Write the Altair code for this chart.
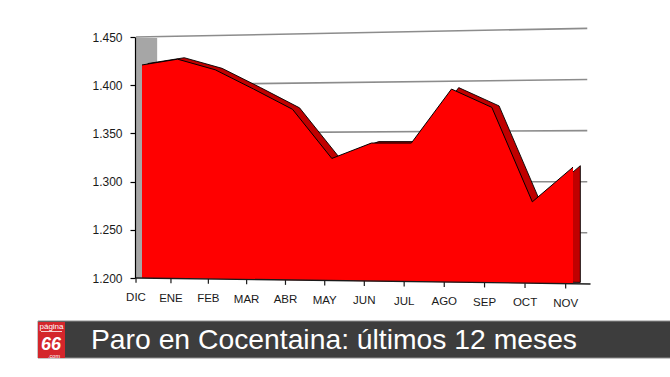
import altair as alt
import pandas as pd

# ---------------- data ----------------
months = ["DIC", "ENE", "FEB", "MAR", "ABR", "MAY", "JUN", "JUL", "AGO", "SEP", "OCT", "NOV"]
values = [1421, 1427, 1416, 1396, 1375, 1324, 1340, 1340, 1396, 1377, 1279, 1315]
y_ticks = [1200, 1250, 1300, 1350, 1400, 1450]
grid_values = [1250, 1300, 1350, 1400, 1450]
title_text = "Paro en Cocentaina: últimos 12 meses"

# ---------------- 3D-look styling constants ----------------
X_LEFT, X_RIGHT = -0.18, 11.43      # floor extent in category-index units
WALL_BACK = 0.44                    # back wall starts here
GRID_END = 11.35
DEPTH_X, DEPTH_Y = 0.18, 1.5        # depth of the 3D band
FLOOR_DROP, SCALE_GROWTH = -6.2, 0.061
TICK_LEN = 5


def persp(v, i):
    t = (i - X_LEFT) / (X_RIGHT - X_LEFT)
    return v + t * (FLOOR_DROP + SCALE_GROWTH * (v - 1200))


x_scale = alt.Scale(type="pow", exponent=1.04, domain=[0, 11], range=[7, 438])
y_scale = alt.Scale(domain=[1200, 1450], nice=False, zero=False)
y_axis = alt.Axis(
    values=y_ticks,
    labelExpr="replace(format(datum.value, ',.0f'), ',', '.')",
    title=None, grid=False, domainColor="#000000", domainWidth=1.2,
    tickColor="#000000", tickSize=5, tickWidth=1.2, labelFontSize=12,
    labelFont="Liberation Sans", labelColor="#1a1a1a", labelPadding=8, zindex=1,
)


def X(f):
    return alt.X(f, type="quantitative", scale=x_scale, axis=None)


def Y(f):
    return alt.Y(f, type="quantitative", scale=y_scale, axis=y_axis)


idx = list(range(len(months)))
front = pd.DataFrame({
    "mes": months,
    "x": idx,
    "v": values,
    "base": [persp(1200, i) for i in idx],
})
back = pd.DataFrame({
    "x": [i + DEPTH_X for i in idx],
    "v": [v + DEPTH_Y for v in values],
    "base": [persp(1200, i + DEPTH_X) + DEPTH_Y for i in idx],
})

grid = pd.DataFrame({
    "x": [X_LEFT if g == 1450 else WALL_BACK for g in grid_values],
    "x2": [GRID_END for g in grid_values],
})
grid["y"] = [persp(g, x) for g, x in zip(grid_values, grid["x"])]
grid["y2"] = [persp(g, GRID_END) for g in grid_values]

wall = pd.DataFrame({"x": [X_LEFT], "x2": [WALL_BACK], "y": [1200], "y2": [1449]})

ticks = pd.DataFrame({"mes": months, "x": [i - DEPTH_X for i in idx]})
ticks["y"] = [persp(1200, x) for x in ticks["x"]]
ticks["y2"] = ticks["y"] - TICK_LEN

floor = pd.DataFrame({
    "x": [X_LEFT], "x2": [X_RIGHT],
    "y": [persp(1200, X_LEFT)], "y2": [persp(1200, X_RIGHT)],
})

# ---------------- chart layers ----------------
wall_l = alt.Chart(wall).mark_rect(color="#a6a6a6").encode(
    x=X("x"), x2="x2", y=Y("y"), y2="y2")

grid_l = alt.Chart(grid).mark_rule(color="#8c8c8c", strokeWidth=1.6).encode(
    x=X("x"), x2="x2", y=Y("y"), y2="y2")

back_l = alt.Chart(back).mark_area(
    color="#c00000", stroke="#000000", strokeWidth=0.9, strokeJoin="round"
).encode(x=X("x"), y=Y("v"), y2="base")

front_l = alt.Chart(front).mark_area(color="#ff0000").encode(
    x=X("x"), y=Y("v"), y2="base")

edge_l = alt.Chart(front).mark_line(color="#000000", strokeWidth=1).encode(
    x=X("x"), y=Y("v"))

floor_l = alt.Chart(floor).mark_rule(color="#1a1a1a", strokeWidth=1.4).encode(
    x=X("x"), x2="x2", y=Y("y"), y2="y2")

tick_l = alt.Chart(ticks).mark_rule(color="#1a1a1a", strokeWidth=1.2).encode(
    x=X("x"), y=Y("y"), y2="y2")

label_l = alt.Chart(ticks).mark_text(
    font="Liberation Sans", fontSize=11.5, color="#1a1a1a", baseline="middle",
    align="center", dy=20
).encode(x=X("x"), y=Y("y"), text="mes:N")

# ---------------- caption bar ----------------
one = alt.Data(values=[{"a": 1}])

bar_l = alt.Chart(one).mark_rect(color="#3d3d3d", stroke="#8e8e8e", strokeWidth=1).encode(
    x=alt.value(-97), x2=alt.value(536), y=alt.value(284), y2=alt.value(321))

logo_l = alt.Chart(one).mark_rect(color="#d4262b").encode(
    x=alt.value(-97), x2=alt.value(-70), y=alt.value(285), y2=alt.value(321))

logo_t1 = alt.Chart(one).mark_text(
    font="Liberation Sans", fontSize=8, color="#ffffff", align="center", baseline="alphabetic"
).encode(x=alt.value(-83.5), y=alt.value(292), text=alt.value("página"))

logo_u = alt.Chart(one).mark_rule(color="#ffffff", strokeWidth=0.8).encode(
    x=alt.value(-94), x2=alt.value(-73), y=alt.value(294.5))

logo_t2 = alt.Chart(one).mark_text(
    font="Liberation Sans", fontSize=18, fontWeight="bold", fontStyle="italic",
    color="#ffffff", align="center", baseline="alphabetic"
).encode(x=alt.value(-84), y=alt.value(312.5), text=alt.value("66"))

logo_t3 = alt.Chart(one).mark_text(
    font="Liberation Sans", fontSize=5.5, color="#ffffff", align="center", baseline="alphabetic"
).encode(x=alt.value(-81), y=alt.value(321), text=alt.value(".com"))

title_l = alt.Chart(one).mark_text(
    font="Liberation Sans", fontSize=28.3, color="#ffffff", align="left", baseline="alphabetic"
).encode(x=alt.value(-44), y=alt.value(312), text=alt.value(title_text))

chart = alt.layer(
    bar_l, logo_l, logo_t1, logo_u, logo_t2, logo_t3, title_l,
    wall_l, grid_l, back_l, front_l, edge_l, floor_l, tick_l, label_l,
).properties(
    width=455, height=241,
    padding={"left": 135, "top": 37, "right": 80, "bottom": 99},
    autosize=alt.AutoSizeParams(type="none"),
    background="#ffffff",
).configure_view(strokeWidth=0)

chart.save("out.html", embed_options={"renderer": "svg", "actions": False})
